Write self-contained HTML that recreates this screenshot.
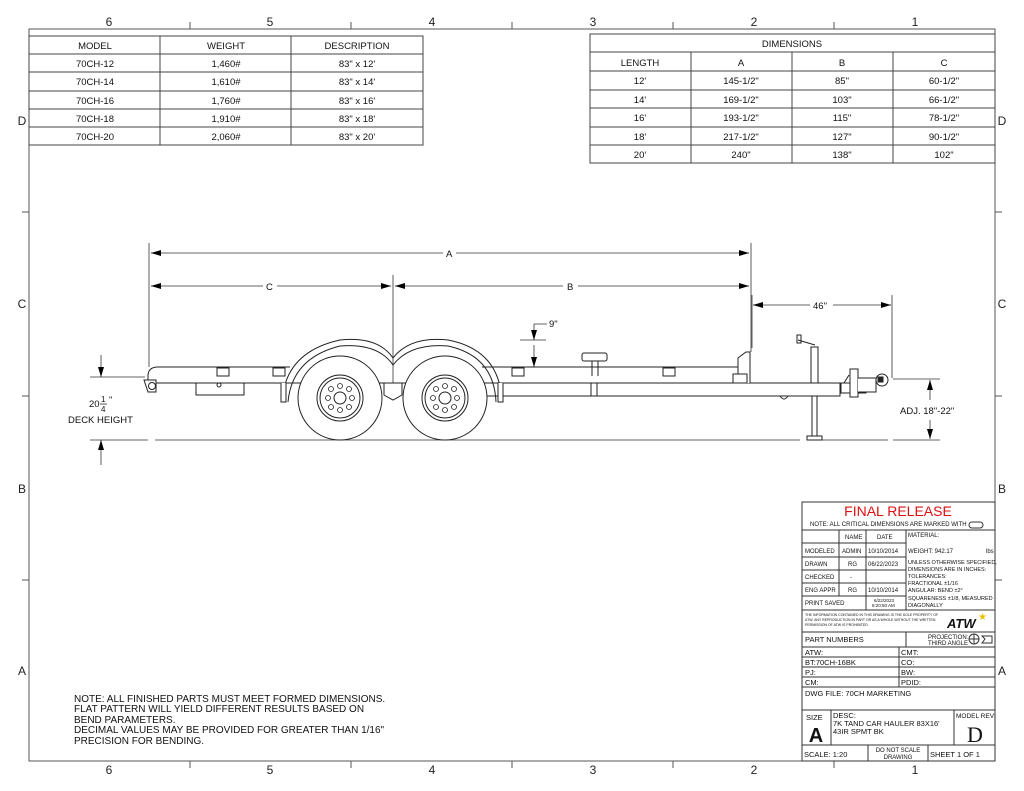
<!DOCTYPE html>
<html><head><meta charset="utf-8"><style>
html,body{margin:0;padding:0;background:#fff;}
svg{display:block;font-family:"Liberation Sans",sans-serif;}
</style></head><body>
<svg width="1024" height="791" viewBox="0 0 1024 791" xmlns="http://www.w3.org/2000/svg">
<defs>
<marker id="ar" viewBox="0 0 10 6" refX="10" refY="3" markerWidth="10" markerHeight="6" markerUnits="userSpaceOnUse" orient="auto-start-reverse"><path d="M0,0 L10,3 L0,6z" fill="#000"/></marker>
</defs>
<g fill="none" stroke="#555" stroke-width="1">
<rect x="29" y="29" width="966" height="732"/>
<!-- zone ticks -->
<path d="M190,22V29 M351,22V29 M512,22V29 M673,22V29 M834,22V29 M190,761V768 M351,761V768 M512,761V768 M673,761V768 M834,761V768 M22,212H29 M22,396H29 M22,580H29 M995,212H1002 M995,396H1002 M995,580H1002"/>
</g>
<g font-size="12" fill="#222" text-anchor="middle">
<text x="109" y="26">6</text><text x="270" y="26">5</text><text x="432" y="26">4</text><text x="593" y="26">3</text><text x="754" y="26">2</text><text x="915" y="26">1</text>
<text x="109" y="774">6</text><text x="270" y="774">5</text><text x="432" y="774">4</text><text x="593" y="774">3</text><text x="754" y="774">2</text><text x="915" y="774">1</text>
<text x="22" y="125">D</text><text x="22" y="308">C</text><text x="22" y="493">B</text><text x="22" y="675">A</text>
<text x="1002" y="125">D</text><text x="1002" y="308">C</text><text x="1002" y="493">B</text><text x="1002" y="675">A</text>
</g>
<!-- left table -->
<g fill="none" stroke="#444" stroke-width="1">
<rect x="29" y="36" width="394" height="109"/>
<path d="M29,54H423 M29,72H423 M29,91H423 M29,109H423 M29,127H423 M160,36V145 M291,36V145"/>
</g>
<g font-size="9.5" fill="#111" text-anchor="middle">
<text x="95" y="49">MODEL</text><text x="226" y="49">WEIGHT</text><text x="357" y="49">DESCRIPTION</text>
<text x="95" y="67">70CH-12</text><text x="226" y="67">1,460#</text><text x="357" y="67">83" x 12'</text>
<text x="95" y="85">70CH-14</text><text x="226" y="85">1,610#</text><text x="357" y="85">83" x 14'</text>
<text x="95" y="104">70CH-16</text><text x="226" y="104">1,760#</text><text x="357" y="104">83" x 16'</text>
<text x="95" y="122">70CH-18</text><text x="226" y="122">1,910#</text><text x="357" y="122">83" x 18'</text>
<text x="95" y="140">70CH-20</text><text x="226" y="140">2,060#</text><text x="357" y="140">83" x 20'</text>
</g>
<!-- right table -->
<g fill="none" stroke="#444" stroke-width="1">
<rect x="590" y="34" width="405" height="129"/>
<path d="M590,52H995 M590,71H995 M590,90H995 M590,108H995 M590,127H995 M590,145H995 M691,52V163 M792,52V163 M893,52V163"/>
</g>
<g font-size="9.5" fill="#111" text-anchor="middle">
<text x="792" y="47">DIMENSIONS</text>
<text x="640" y="66">LENGTH</text><text x="741" y="66">A</text><text x="842" y="66">B</text><text x="944" y="66">C</text>
<text x="640" y="84">12'</text><text x="741" y="84">145-1/2"</text><text x="842" y="84">85"</text><text x="944" y="84">60-1/2"</text>
<text x="640" y="103">14'</text><text x="741" y="103">169-1/2"</text><text x="842" y="103">103"</text><text x="944" y="103">66-1/2"</text>
<text x="640" y="121">16'</text><text x="741" y="121">193-1/2"</text><text x="842" y="121">115"</text><text x="944" y="121">78-1/2"</text>
<text x="640" y="140">18'</text><text x="741" y="140">217-1/2"</text><text x="842" y="140">127"</text><text x="944" y="140">90-1/2"</text>
<text x="640" y="158">20'</text><text x="741" y="158">240"</text><text x="842" y="158">138"</text><text x="944" y="158">102"</text>
</g>
<!-- dimensions -->
<g stroke="#333" stroke-width="0.8" fill="none">
<path d="M149,243V367 M393,275V400 M751,243V352 M752,295V348 M892,295V378"/>
<path d="M151,253H443 M456,253H749" />
<path d="M151,253H160" marker-start="url(#ar)"/><path d="M740,253H749" marker-end="url(#ar)"/>
<path d="M151,286H263 M277,286H391 M395,286H563 M578,286H749"/>
<path d="M151,286H160" marker-start="url(#ar)"/><path d="M382,286H391" marker-end="url(#ar)"/>
<path d="M395,286H404" marker-start="url(#ar)"/><path d="M740,286H749" marker-end="url(#ar)"/>
<path d="M753,305H810 M833,305H891"/><path d="M753,305H762" marker-start="url(#ar)"/><path d="M882,305H891" marker-end="url(#ar)"/>
<!-- 9 -->
<path d="M520,340H546 M534,324H547 M534,324V340"/><path d="M534,330V340" marker-end="url(#ar)"/><path d="M534,367V345" marker-start="url(#ar)"/>
<!-- deck height -->
<path d="M90,377H145 M90,440H148 M155,440H800 M822,440H888 M893,440H940 M893,379H940"/>
<path d="M101,355V377" marker-end="url(#ar)"/><path d="M101,440V465" marker-start="url(#ar)"/>
<path d="M930,380V400" marker-start="url(#ar)"/><path d="M930,420V439" marker-end="url(#ar)"/>
</g>
<g font-size="9.5" fill="#111">
<text x="446" y="257">A</text><text x="266" y="290">C</text><text x="567" y="290">B</text><text x="813" y="309">46"</text>
<text x="549" y="327">9"</text>
<text x="89" y="407">20</text><text x="101" y="402" font-size="8">1</text><line x1="100" y1="404" x2="107" y2="404" stroke="#111" stroke-width="0.7"/><text x="101" y="412" font-size="8">4</text><text x="109" y="403">"</text>
<text x="68" y="423">DECK HEIGHT</text>
<text x="900" y="414">ADJ. 18"-22"</text>
</g>
<!-- trailer -->
<g stroke="#222" stroke-width="1" fill="#fff">
<path d="M148,383V376Q148,367 158,367H290 M482,367H742 M300,383H742"/>
<path d="M148,383H295 M485,383H840 M480,396H805 M822,396H840 M148,383H840"/>
<path d="M485,383H840V396H485" fill="none"/>
<!-- front end -->
<path d="M144,380L148,392H156V380Z"/><circle cx="152" cy="386" r="3.5"/>
<rect x="196" y="383" width="48" height="12"/><rect x="217" y="368" width="12" height="8"/><circle cx="219" cy="385" r="2"/>
<rect x="273" y="368" width="12" height="8"/><rect x="512" y="368" width="12" height="8"/><rect x="663" y="368" width="12" height="8"/>
<!-- fenders -->
<path d="M282,402Q285,352 340,340Q378,336 393,358Q410,336 448,340Q500,350 502,402" fill="none"/>
<path d="M288,402Q292,358 340,346Q378,343 393,365Q410,343 448,346Q494,356 496,402" fill="none"/>
<path d="M281,383V402H286V383 M498,383V402H503V383"/>
<!-- wheels -->
<circle cx="340" cy="398" r="42"/><circle cx="340" cy="398" r="23"/><circle cx="340" cy="398" r="20"/><circle cx="340" cy="398" r="6"/>
<circle cx="445" cy="398" r="42"/><circle cx="445" cy="398" r="23"/><circle cx="445" cy="398" r="20"/><circle cx="445" cy="398" r="6"/>
<g fill="none" stroke-width="0.8">
<circle cx="340" cy="386" r="2.5"/><circle cx="340" cy="410" r="2.5"/><circle cx="328" cy="398" r="2.5"/><circle cx="352" cy="398" r="2.5"/><circle cx="331" cy="389" r="2.5"/><circle cx="349" cy="389" r="2.5"/><circle cx="331" cy="407" r="2.5"/><circle cx="349" cy="407" r="2.5"/>
<circle cx="445" cy="386" r="2.5"/><circle cx="445" cy="410" r="2.5"/><circle cx="433" cy="398" r="2.5"/><circle cx="457" cy="398" r="2.5"/><circle cx="436" cy="389" r="2.5"/><circle cx="454" cy="389" r="2.5"/><circle cx="436" cy="407" r="2.5"/><circle cx="454" cy="407" r="2.5"/>
</g>
<path d="M384,383H402V395L393,400L384,395Z"/>
<!-- front stop / tongue -->
<path d="M738,383V358L746,352H750V383"/><rect x="733" y="374" width="14" height="9"/>
<rect x="582" y="353" width="25" height="8" rx="2"/><path d="M592,361V376 M598,361V376"/>
<path d="M591,383V396 M597,383V396"/>
<!-- jack -->
<rect x="811" y="347" width="7" height="36"/><rect x="812" y="396" width="5" height="40"/><path d="M807,440H822V436H807Z"/>
<path d="M798,340L815,345 M797,335V343H801V335Z"/>
<path d="M780,396Q784,402 788,396" fill="none"/>
<!-- coupler -->
<rect x="841" y="383" width="25" height="10"/><rect x="850" y="369" width="8" height="28"/><path d="M858,378H876V392H858" /><circle cx="882" cy="380" r="6"/><rect x="878" y="377" width="5" height="5" fill="#222"/>
<path d="M849,375L844,383"/>
</g>
<!-- notes -->
<g font-size="10" fill="#111">
<text x="74" y="702">NOTE: ALL FINISHED PARTS MUST MEET FORMED DIMENSIONS.</text>
<text x="74" y="712">FLAT PATTERN WILL YIELD DIFFERENT RESULTS BASED ON</text>
<text x="74" y="723">BEND PARAMETERS.</text>
<text x="74" y="733">DECIMAL VALUES MAY BE PROVIDED FOR GREATER THAN 1/16"</text>
<text x="74" y="744">PRECISION FOR BENDING.</text>
</g>
<!-- title block -->
<g fill="none" stroke="#333" stroke-width="1">
<rect x="802" y="502" width="193" height="259"/>
<path d="M802,530H995 M802,543H906 M802,557H906 M802,570H906 M802,583H906 M802,596H906 M802,610H995 M802,632H995 M802,647H995 M802,657H995 M802,667H995 M802,677H995 M802,687H995 M802,710H995 M802,745H995"/>
<path d="M839,530V596 M866,530V610 M906,530V610 M906,632V647 M899,647V687 M831,710V745 M954,710V745 M868,745V761 M928,745V761"/>
<path d="M972,522H980A3,3 0 0 1 980,528H972A3,3 0 0 1 972,522Z"/>
<circle cx="974" cy="639" r="5"/><path d="M969,639H979 M974,634V644"/><path d="M982,636H992V643H982L985,639Z"/>
</g>
<g fill="#111" font-size="6">
<text x="898" y="516" font-size="14" fill="#d11" text-anchor="middle">FINAL RELEASE</text>
<text x="810" y="526">NOTE: ALL CRITICAL DIMENSIONS ARE MARKED WITH</text>
<text x="845" y="539">NAME</text><text x="877" y="539">DATE</text><text x="908" y="537">MATERIAL:</text>
<text x="805" y="553">MODELED</text><text x="842" y="553">ADMIN</text><text x="868" y="553">10/10/2014</text><text x="908" y="553">WEIGHT: 942.17</text><text x="986" y="553">lbs</text>
<text x="805" y="566">DRAWN</text><text x="848" y="566">RG</text><text x="868" y="566">06/22/2023</text>
<text x="908" y="564" font-size="5.5">UNLESS OTHERWISE SPECIFIED,</text>
<text x="908" y="571" font-size="5.5">DIMENSIONS ARE IN INCHES:</text>
<text x="908" y="578" font-size="5.5">TOLERANCES:</text>
<text x="908" y="585" font-size="5.5">FRACTIONAL ±1/16</text>
<text x="908" y="592" font-size="5.5">ANGULAR: BEND ±2°</text>
<text x="908" y="600" font-size="5.5">SQUARENESS ±1/8, MEASURED</text>
<text x="908" y="607" font-size="5.5">DIAGONALLY</text>
<text x="805" y="579">CHECKED</text><text x="850" y="579">-</text>
<text x="805" y="592">ENG APPR</text><text x="848" y="592">RG</text><text x="868" y="592">10/10/2014</text>
<text x="805" y="605">PRINT SAVED</text><text x="874" y="602" font-size="4.5">6/22/2023</text><text x="872" y="607" font-size="4.5">8:20:50 AM</text>
<text x="805" y="616" font-size="3.5">THE INFORMATION CONTAINED IN THIS DRAWING IS THE SOLE PROPERTY OF</text>
<text x="805" y="621" font-size="3.5">ATW. ANY REPRODUCTION IN PART OR AS A WHOLE WITHOUT THE WRITTEN</text>
<text x="805" y="626" font-size="3.5">PERMISSION OF ATW IS PROHIBITED.</text>
<text x="947" y="628" font-size="13" font-weight="bold" font-style="italic">ATW</text><text x="978" y="620" font-size="10" fill="#e6c200">★</text>
<text x="805" y="642" font-size="7.5">PART NUMBERS</text>
<text x="928" y="639" font-size="6">PROJECTION:</text><text x="928" y="645" font-size="6">THIRD ANGLE</text>
<g font-size="7.5"><text x="805" y="655">ATW:</text><text x="901" y="655">CMT:</text>
<text x="805" y="665">BT:70CH-16BK</text><text x="901" y="665">CO:</text>
<text x="805" y="675">PJ:</text><text x="901" y="675">BW:</text>
<text x="805" y="685">CM:</text><text x="901" y="685">PDID:</text>
<text x="805" y="696">DWG FILE: 70CH MARKETING</text>
<text x="806" y="720">SIZE</text><text x="833" y="718">DESC:</text>
<text x="833" y="726">7K TAND CAR HAULER 83X16'</text><text x="833" y="734">43IR SPMT BK</text>
<text x="956" y="718" font-size="6.5">MODEL REV:</text>
<text x="804" y="757">SCALE: 1:20</text><text x="930" y="757">SHEET 1 OF 1</text></g>
<text x="898" y="752" text-anchor="middle">DO NOT SCALE</text><text x="898" y="759" text-anchor="middle">DRAWING</text>
<text x="816" y="742" font-size="20" font-weight="bold" text-anchor="middle">A</text>
<text x="975" y="742" font-size="22" font-family="Liberation Serif,serif" text-anchor="middle">D</text>
</g>
</svg>
</body></html>
